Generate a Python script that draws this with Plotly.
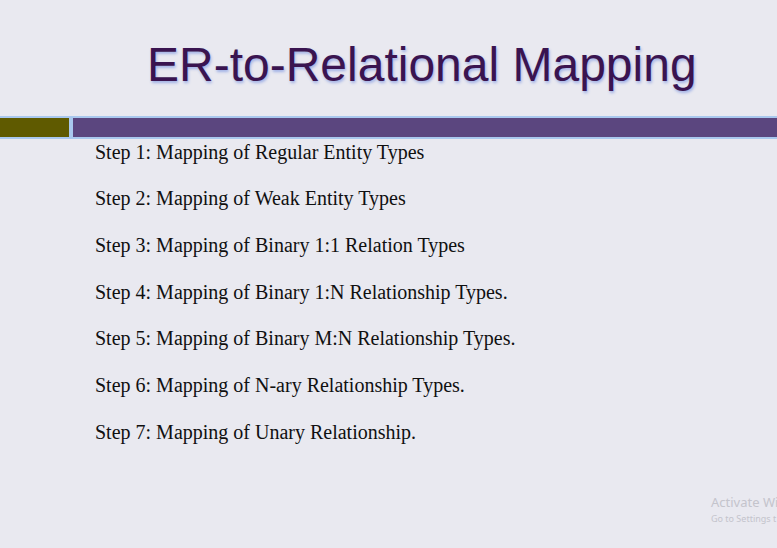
import plotly.graph_objects as go

# slide content
title = "ER-to-Relational Mapping"
step_no = [1, 2, 3, 4, 5, 6, 7]
step_text = [
    "Step 1: Mapping of Regular Entity Types",
    "Step 2: Mapping of Weak Entity Types",
    "Step 3: Mapping of Binary 1:1 Relation Types",
    "Step 4: Mapping of Binary 1:N Relationship Types.",
    "Step 5: Mapping of Binary M:N Relationship Types.",
    "Step 6: Mapping of N-ary Relationship Types.",
    "Step 7: Mapping of Unary Relationship.",
]
step_x = [0] * len(step_no)

fig = go.Figure()
fig.add_trace(go.Scatter(
    x=step_x, y=step_no, mode="text", text=step_text,
    textposition="middle right",
    textfont=dict(family="Liberation Serif", size=20, color="#101010"),
    hoverinfo="skip", showlegend=False,
))

# header band: light blue rule with olive + purple blocks
fig.add_shape(type="rect", xref="paper", yref="paper", x0=0, x1=1,
              y0=1 - 139 / 548, y1=1 - 116 / 548,
              fillcolor="#a9c8ee", line_width=0, layer="below")
fig.add_shape(type="rect", xref="paper", yref="paper", x0=0, x1=69 / 777,
              y0=1 - 137 / 548, y1=1 - 118 / 548,
              fillcolor="#5f5a00", line_width=0, layer="below")
fig.add_shape(type="rect", xref="paper", yref="paper", x0=73 / 777, x1=1,
              y0=1 - 137 / 548, y1=1 - 118 / 548,
              fillcolor="#5b467f", line_width=0, layer="below")

fig.add_annotation(
    text=title, xref="paper", yref="paper", x=422 / 777, y=1 - 65 / 548,
    xanchor="center", yanchor="middle", showarrow=False,
    font=dict(family="Liberation Sans", size=48, color="#3a1450",
              shadow="1px 2px 3px #9fb0e6"),
)

# watermark text in the corner
fig.add_annotation(text="Activate Wi", xref="paper", yref="paper",
                   x=709 / 777, y=1 - 502 / 548, xanchor="left", yanchor="middle",
                   showarrow=False, font=dict(family="Noto Sans", size=13, color="#c4c4cc"))
fig.add_annotation(text="Go to Settings t", xref="paper", yref="paper",
                   x=709 / 777, y=1 - 518 / 548, xanchor="left", yanchor="middle",
                   showarrow=False, font=dict(family="Noto Sans", size=9, color="#c4c4cc"))

unit = 46.67
y_top = 1 - 153.5 / unit
fig.update_layout(
    width=777, height=548,
    margin=dict(l=0, r=0, t=0, b=0),
    paper_bgcolor="#e9e9f0", plot_bgcolor="rgba(0,0,0,0)",
    xaxis=dict(range=[-95, 682], visible=False, fixedrange=True),
    yaxis=dict(range=[y_top + 548 / unit, y_top], visible=False, fixedrange=True),
)

fig.write_html("out.html", config={"displayModeBar": False},
               post_script="document.body.style.margin='0';")
